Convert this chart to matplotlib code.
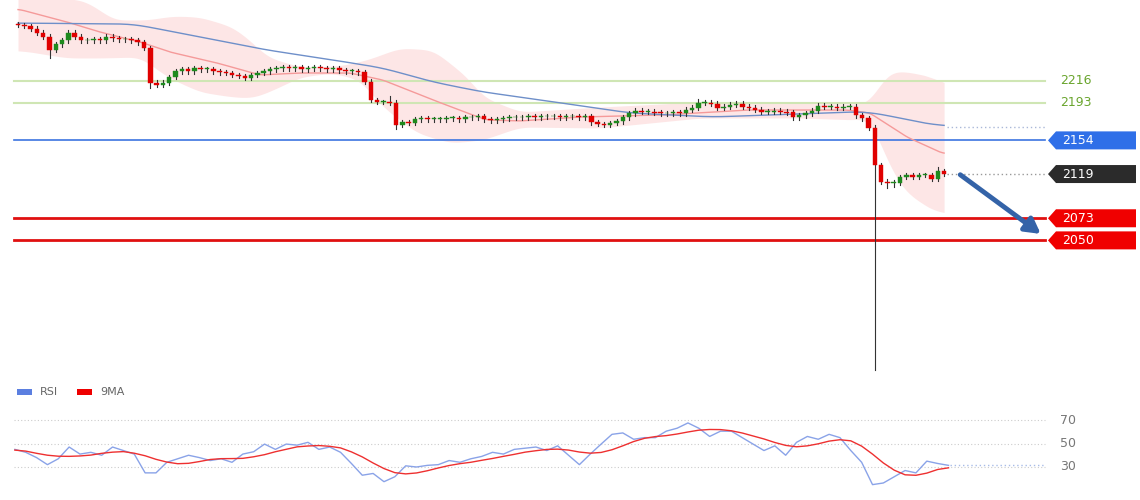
import numpy as np
import pandas as pd
import matplotlib
matplotlib.use("Agg")
import matplotlib.pyplot as plt
from matplotlib.patches import Polygon, Rectangle
import matplotlib.transforms as mtrans

# closing prices, one per candle
closes = [2274, 2273, 2270, 2266, 2262, 2248, 2254, 2258, 2266, 2262,
          2258, 2258, 2259, 2258, 2262, 2260, 2259, 2259, 2258, 2256,
          2250, 2214, 2212, 2214, 2220, 2226, 2228, 2226, 2229, 2228,
          2228, 2226, 2225, 2224, 2222, 2221, 2219, 2222, 2224, 2226,
          2228, 2229, 2230, 2229, 2230, 2228, 2229, 2230, 2229, 2228,
          2229, 2227, 2226, 2226, 2225, 2215, 2196, 2194, 2194, 2193,
          2170, 2173, 2172, 2176, 2177, 2176, 2176, 2176, 2177, 2177,
          2176, 2178, 2178, 2179, 2176, 2175, 2176, 2177, 2178, 2178,
          2178, 2179, 2178, 2179, 2179, 2179, 2178, 2179, 2179, 2178,
          2179, 2173, 2171, 2170, 2172, 2174, 2178, 2182, 2185, 2184,
          2184, 2183, 2182, 2182, 2183, 2182, 2186, 2188, 2193, 2193,
          2192, 2188, 2189, 2191, 2192, 2189, 2188, 2186, 2184, 2184,
          2185, 2184, 2183, 2178, 2180, 2182, 2185, 2190, 2189, 2189,
          2188, 2189, 2189, 2180, 2177, 2167, 2128, 2111, 2110, 2110,
          2116, 2118, 2116, 2118, 2118, 2114, 2122, 2119]
first_open = 2275
low_override = {5: 2240, 21: 2208, 60: 2166, 136: 1915, 138: 2105, 139: 2106}
high_override = {59: 2200, 108: 2197, 146: 2126}

# indicator lines (candle index, price)
mid_i = [0, 7.8, 13, 19.4, 24.1, 31.6, 38.4, 44.8, 52.7, 57.9, 65.9, 71.3, 74.4,
         79.7, 89.2, 102.4, 115.7, 131.6, 135.2, 141.1, 147]
mid_p = [2290.6, 2277.1, 2266.7, 2256.3, 2245.9, 2234.5, 2222, 2224.1, 2224.1,
         2216.8, 2196, 2182.5, 2175.2, 2174.2, 2178.3, 2180.4, 2185.6, 2185.6,
         2182.5, 2157.5, 2139.8]
slow_i = [0, 18.3, 28.9, 39.5, 50, 57.9, 65.9, 73.8, 79.7, 97.1, 110.3, 131.6, 135.2, 147]
slow_p = [2276, 2275, 2261.5, 2248, 2237.6, 2229.3, 2214.7, 2204.3, 2199.1, 2182.5,
          2178.3, 2183.5, 2183.5, 2167.9]
upper_i = [0, 10.3, 13, 15.1, 20.5, 24.6, 28.9, 34.1, 37.3, 39.5, 44.8, 51.1, 55.4,
           60.6, 65.9, 71.3, 73.8, 79.7, 92.4, 108.3, 124.1, 133.7, 135.2, 137.9,
           140.5, 145.9, 147]
upper_p = [2305, 2300, 2289.6, 2279.2, 2279.2, 2283.4, 2282.3, 2271.9, 2255.3, 2240.7,
           2230.3, 2231.4, 2237.6, 2250.1, 2248, 2219.9, 2199.1, 2183.5, 2188.7,
           2193.9, 2192.9, 2191.8, 2192.9, 2224.1, 2226.2, 2218.9, 2206.4]
lower_i = [0, 7.8, 13, 19.4, 23.7, 28.9, 34.1, 37.3, 40.5, 44.8, 50, 54.3, 57.9, 63.3,
           68.6, 73.8, 79.7, 92.4, 108.3, 124.1, 133.7, 135.2, 137.9, 140.5, 144.3, 147]
lower_p = [2248, 2239.7, 2239.7, 2240.7, 2219.9, 2204.3, 2199.1, 2198.1, 2206.4,
           2219.9, 2224.1, 2216.8, 2188.7, 2161.7, 2151.3, 2154.4, 2167.9, 2166.9,
           2177.3, 2177.3, 2175.2, 2178.3, 2133.6, 2102.4, 2084.7, 2076.4]

rsi = [45, 42.5, 38, 32, 37, 47, 41, 42.5, 40, 47, 44, 41, 25, 25, 34, 37, 40, 38,
       35.5, 37, 34, 41, 43, 49.5, 45, 49.5, 48.6, 51, 45, 47, 42.5, 33, 23, 24.5,
       17.5, 21.7, 31, 30, 31.4, 32, 35.5, 34, 37, 39, 42.5, 41, 45, 46, 47, 44, 48,
       40, 32, 41, 49.5, 57.8, 59, 53.6, 55, 55, 60.5, 63, 67.5, 63, 56, 60.5, 60.5,
       55, 49.5, 44, 48, 40, 51, 56, 53.6, 57.8, 55, 44, 34, 15, 16.4, 21.7, 27, 25,
       35, 33, 31.4]

levels_green = [2216, 2193]
level_blue = 2154
levels_red = [2073, 2050]
last_price = 2119

W, H = 1140, 500
fig = plt.figure(figsize=(W / 100, H / 100), dpi=100)
fig.patch.set_facecolor("white")

n = len(closes)
xl = (-18 / 6.3, (W - 18) / 6.3)
def fx(px):
    return px / 6.3 - 18 / 6.3

grid = np.linspace(0, 147, 600)
def smooth(xs, ys, win=31):
    v = pd.Series(np.interp(grid, xs, ys))
    return v.rolling(win, center=True, min_periods=1, win_type="gaussian").mean(std=win / 4).values

ax = fig.add_axes([0, 1 - 375 / H, 1, 375 / H])
ax.set_xlim(*xl)
ax.set_ylim(2300 - 375 * 1.04, 2300)
ax.axis("off")

opens = [first_open] + closes[:-1]
up = smooth(upper_i, upper_p, 21)
lo = smooth(lower_i, lower_p, 21)
ax.fill_between(grid, lo, up, color="#fde2e2", alpha=0.85, lw=0, zorder=1)
ax.plot(grid, smooth(mid_i, mid_p, 9), color="#f59a9a", lw=1, zorder=2)
ax.plot(grid, smooth(slow_i, slow_p, 31), color="#6e8fc9", lw=1, zorder=2)

x0, x1 = fx(14), fx(1045)
for lv in levels_green:
    ax.plot([x0, x1], [lv, lv], color="#cfe6b4", lw=1.5, zorder=1.5)
    ax.text(fx(1060), lv, str(lv), color="#6aa52e", fontsize=9, va="center")
ax.plot([x0, x1], [level_blue, level_blue], color="#3c74e0", lw=1.2, zorder=1.5)
for lv in levels_red:
    ax.plot([x0, x1], [lv, lv], color="#e01010", lw=2, zorder=1.5)
ax.plot([n - 0.5, x1], [last_price, last_price], color="#999999", lw=1, ls=(0, (1, 2)))
ax.plot([n - 0.5, x1], [slow_p[-1]] * 2, color="#aab8d8", lw=1, ls=(0, (1, 2)))

# candles
for i in range(n):
    o, cl = opens[i], closes[i]
    hi = high_override.get(i, max(o, cl) + 2.5)
    lw_ = low_override.get(i, min(o, cl) - 2.5)
    col = "#1e8a1e" if cl >= o else "#e00000"
    ax.plot([i, i], [lw_, hi], color="#333333", lw=0.8, zorder=3)
    h = max(abs(cl - o), 0.8)
    ax.add_patch(Rectangle((i - 0.35, min(o, cl)), 0.7, h, facecolor=col,
                           edgecolor=col, lw=0.3, zorder=4))

# price tags
tr = mtrans.blended_transform_factory(ax.transAxes, ax.transData)
def tag(val, color):
    a, b, cc = 1048 / W, 1056 / W, 1136 / W
    hh = 9 * 1.04
    ax.add_patch(Polygon([(a, val), (b, val + hh), (cc, val + hh), (cc, val - hh), (b, val - hh)],
                         closed=True, transform=tr, facecolor=color, edgecolor="none",
                         clip_on=False, zorder=5))
    ax.text(1062 / W, val, str(val), transform=tr, color="white", fontsize=9,
            va="center", zorder=6)
tag(level_blue, "#2f6fe8")
tag(last_price, "#2b2b2b")
for lv in levels_red:
    tag(lv, "#f00000")

ax.annotate("", xy=(fx(1043), 2055), xytext=(fx(958), 2120),
            arrowprops=dict(arrowstyle="-|>,head_length=0.9,head_width=0.5",
                            color="#3463a8", lw=3.5), zorder=6)

# RSI panel
ax2 = fig.add_axes([0, 1 - 495 / H, 1, 95 / H])
ax2.set_xlim(*xl)
ax2.set_ylim(30 - 28 / 1.175, 70 + 20 / 1.175)
ax2.axis("off")
for lv in (30, 50, 70):
    ax2.plot([x0, x1], [lv, lv], color="#cccccc", lw=0.8, ls=(0, (1, 2)))
    ax2.text(fx(1060), lv, str(lv), color="#777777", fontsize=9, va="center")
r = pd.Series(rsi)
rx = np.linspace(-0.5, n - 0.3, len(rsi))
ax2.plot(rx, r, color="#8aa3e8", lw=1)
ax2.plot(rx, r.rolling(5, min_periods=1).mean().rolling(3, center=True, min_periods=1).mean(),
         color="#ee3030", lw=1)
ax2.plot([rx[-1] + 0.3, x1], [31.4, 31.4], color="#a8bce8", lw=1, ls=(0, (1, 2)))

fig.patches.append(Rectangle((17 / W, 1 - 395 / H), 15 / W, 6 / H, transform=fig.transFigure,
                             facecolor="#5b7fe0", edgecolor="none"))
fig.text(40 / W, 1 - 392 / H, "RSI", color="#666666", fontsize=8, va="center")
fig.patches.append(Rectangle((77 / W, 1 - 395 / H), 15 / W, 6 / H, transform=fig.transFigure,
                             facecolor="#ee0000", edgecolor="none"))
fig.text(100 / W, 1 - 392 / H, "9MA", color="#666666", fontsize=8, va="center")

fig.savefig("out.png", dpi=100, facecolor="white")
